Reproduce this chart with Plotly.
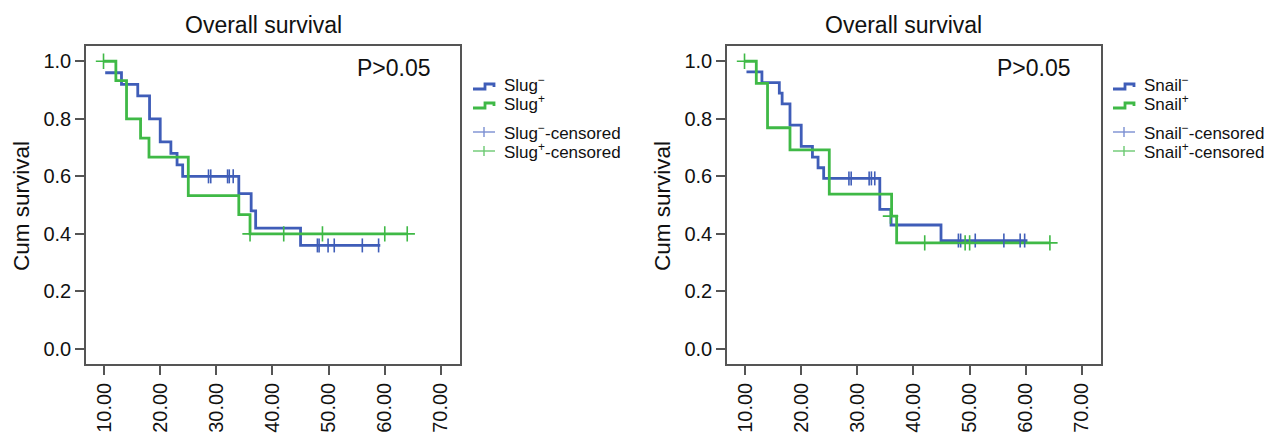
import plotly.graph_objects as go

# ---------------- data ----------------
# Left panel: Slug
slug_neg_t = [10.2, 13.1, 16.0, 18.1, 20.0, 21.9, 23.0, 24.0, 34.0, 36.2, 37.0, 45.0, 59.2]
slug_neg_s = [0.96, 0.92, 0.88, 0.80, 0.72, 0.68, 0.64, 0.60, 0.54, 0.48, 0.42, 0.36, 0.36]
slug_neg_cens_t = [28.6, 29.0, 32.0, 32.3, 33.0, 48.0, 48.3, 49.9, 51.0, 56.0, 58.9]
slug_neg_cens_s = [0.60, 0.60, 0.60, 0.60, 0.60, 0.36, 0.36, 0.36, 0.36, 0.36, 0.36]

slug_pos_t = [9.9, 12.1, 14.0, 16.5, 18.0, 25.0, 34.0, 36.0, 64.0]
slug_pos_s = [1.0, 0.933, 0.80, 0.733, 0.667, 0.533, 0.467, 0.40, 0.40]
slug_pos_cens_t = [9.9, 36.0, 42.0, 48.9, 60.0, 64.0]
slug_pos_cens_s = [1.0, 0.40, 0.40, 0.40, 0.40, 0.40]

# Right panel: Snail
snail_neg_t = [10.25, 13.0, 16.1, 16.6, 18.0, 20.0, 22.0, 23.0, 24.0, 34.0, 36.0, 44.9, 60.3]
snail_neg_s = [0.963, 0.926, 0.889, 0.852, 0.778, 0.704, 0.667, 0.630, 0.593, 0.485, 0.431, 0.377, 0.377]
snail_neg_cens_t = [28.5, 28.9, 32.1, 32.5, 33.1, 48.0, 48.4, 51.0, 56.1, 59.0, 59.8]
snail_neg_cens_s = [0.593, 0.593, 0.593, 0.593, 0.593, 0.377, 0.377, 0.377, 0.377, 0.377, 0.377]

snail_pos_t = [9.9, 12.0, 14.0, 18.0, 25.0, 36.1, 37.0, 64.3]
snail_pos_s = [1.0, 0.923, 0.769, 0.692, 0.538, 0.462, 0.369, 0.369]
snail_pos_cens_t = [9.9, 35.9, 42.0, 49.2, 50.0, 64.3]
snail_pos_cens_s = [1.0, 0.462, 0.369, 0.369, 0.369, 0.369]

x_ticks = [10, 20, 30, 40, 50, 60, 70]
x_tick_labels = ["10.00", "20.00", "30.00", "40.00", "50.00", "60.00", "70.00"]
y_ticks = [0.0, 0.2, 0.4, 0.6, 0.8, 1.0]
y_tick_labels = ["0.0", "0.2", "0.4", "0.6", "0.8", "1.0"]

panel_title = "Overall survival"
p_text = "P>0.05"
y_title = "Cum survival"
left_labels = ["Slug<sup>−</sup>", "Slug<sup>+</sup>", "Slug<sup>−</sup>-censored", "Slug<sup>+</sup>-censored"]
right_labels = ["Snail<sup>−</sup>", "Snail<sup>+</sup>", "Snail<sup>−</sup>-censored", "Snail<sup>+</sup>-censored"]

# ---------------- style / geometry ----------------
BLUE = "#3f5db8"
GREEN = "#3fb946"
BLUE_L = "#7a8fd2"
GREEN_L = "#6cc972"
FONT = "Liberation Sans, Arial, sans-serif"
AX = "#555555"
TXT = "#111111"

OFF = 8  # page body offset
W, H = 1274 - OFF, 440 - OFF


def PX(px):
    return (px - OFF) / W


def PY(py):
    return 1 - (py - OFF) / H


fig = go.Figure()


def add_panel(xa, ya, neg_t, neg_s, pos_t, pos_s, nct, ncs, pct, pcs):
    fig.add_trace(go.Scatter(x=neg_t, y=neg_s, mode="lines", line=dict(color=BLUE, width=2.8, shape="hv"),
                             xaxis=xa, yaxis=ya, showlegend=False, hoverinfo="skip"))
    fig.add_trace(go.Scatter(x=pos_t, y=pos_s, mode="lines", line=dict(color=GREEN, width=2.8, shape="hv"),
                             xaxis=xa, yaxis=ya, showlegend=False, hoverinfo="skip"))
    fig.add_trace(go.Scatter(x=nct, y=ncs, mode="markers",
                             marker=dict(symbol="line-ns", size=10, line=dict(color=BLUE, width=1.6)),
                             xaxis=xa, yaxis=ya, showlegend=False, hoverinfo="skip"))
    fig.add_trace(go.Scatter(x=pct, y=pcs, mode="markers",
                             marker=dict(symbol="cross-thin", size=11, line=dict(color=GREEN, width=1.6)),
                             xaxis=xa, yaxis=ya, showlegend=False, hoverinfo="skip"))


add_panel("x", "y", slug_neg_t, slug_neg_s, slug_pos_t, slug_pos_s,
          slug_neg_cens_t, slug_neg_cens_s, slug_pos_cens_t, slug_pos_cens_s)
add_panel("x2", "y2", snail_neg_t, snail_neg_s, snail_pos_t, snail_pos_s,
          snail_neg_cens_t, snail_neg_cens_s, snail_pos_cens_t, snail_pos_cens_s)

ydom = [PY(364), PY(46)]
xdom1 = [PX(86), PX(460)]
xdom2 = [PX(727), PX(1101)]
xr = [6.78, 73.4]
yr = [-0.052, 1.053]


def xaxis(dom, anchor):
    return dict(domain=dom, range=xr, anchor=anchor, tickmode="array", tickvals=x_ticks, ticktext=x_tick_labels,
                tickangle=-90, ticks="outside", ticklen=9, tickwidth=1.5, tickcolor=AX,
                showline=True, linecolor=AX, linewidth=1.5, mirror=True, showgrid=False, zeroline=False,
                tickfont=dict(family=FONT, size=20, color=TXT), automargin=False, fixedrange=True)


def yaxis(anchor):
    return dict(domain=ydom, range=yr, anchor=anchor, tickmode="array", tickvals=y_ticks, ticktext=y_tick_labels,
                ticks="outside", ticklen=9, tickwidth=1.5, tickcolor=AX,
                showline=True, linecolor=AX, linewidth=1.5, mirror=True, showgrid=False, zeroline=False,
                tickfont=dict(family=FONT, size=20, color=TXT), automargin=False, fixedrange=True)


annotations = []
shapes = []
for cx, px_right in [(263, 433), (903, 1073)]:
    annotations.append(dict(text=panel_title, x=PX(cx), y=PY(25), xref="paper", yref="paper",
                            showarrow=False, font=dict(family=FONT, size=23, color=TXT),
                            xanchor="center", yanchor="middle"))
    annotations.append(dict(text=p_text, x=PX(px_right), y=PY(68), xref="paper", yref="paper",
                            showarrow=False, font=dict(family=FONT, size=23, color=TXT),
                            xanchor="right", yanchor="middle"))
for cx in [22, 663]:
    annotations.append(dict(text=y_title, x=PX(cx), y=PY(206), xref="paper", yref="paper",
                            showarrow=False, textangle=-90, font=dict(family=FONT, size=22.5, color=TXT),
                            xanchor="center", yanchor="middle"))

# manual legends (step icons for curves, plus icons for censored)
row_y = [84, 103, 132, 151]
for x0, labels in [(473, left_labels), (1113, right_labels)]:
    for i, (lab, ry) in enumerate(zip(labels, row_y)):
        annotations.append(dict(text=lab, x=PX(x0 + 29), y=PY(ry), xref="paper", yref="paper",
                                showarrow=False, font=dict(family=FONT, size=17, color=TXT),
                                xanchor="left", yanchor="middle"))
        if i < 2:
            col = BLUE if i == 0 else GREEN
            pts = [(x0, ry + 5), (x0 + 12, ry + 5), (x0 + 12, ry), (x0 + 21, ry), (x0 + 21, ry + 3)]
            path = "M " + " L ".join(f"{PX(a)},{PY(b)}" for a, b in pts)
            shapes.append(dict(type="path", path=path, xref="paper", yref="paper",
                               line=dict(color=col, width=2.8)))
        else:
            col = BLUE_L if i == 2 else GREEN_L
            shapes.append(dict(type="line", x0=PX(x0), x1=PX(x0 + 22), y0=PY(ry), y1=PY(ry),
                               xref="paper", yref="paper", line=dict(color=col, width=1.4)))
            shapes.append(dict(type="line", x0=PX(x0 + 11), x1=PX(x0 + 11), y0=PY(ry - 5), y1=PY(ry + 5),
                               xref="paper", yref="paper", line=dict(color=col, width=1.4)))

fig.update_layout(
    width=W, height=H, margin=dict(l=0, r=0, t=0, b=0),
    plot_bgcolor="white", paper_bgcolor="white",
    xaxis=xaxis(xdom1, "y"), yaxis=yaxis("x"),
    xaxis2=xaxis(xdom2, "y2"), yaxis2=yaxis("x2"),
    annotations=annotations, shapes=shapes,
    showlegend=False,
)

fig.write_html("out.html")
